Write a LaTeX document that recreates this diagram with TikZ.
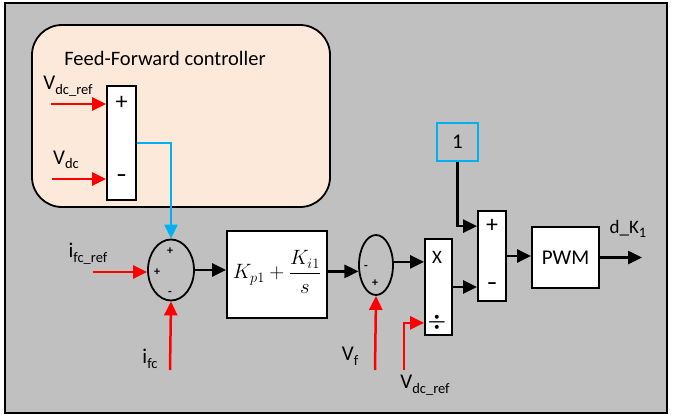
\documentclass[tikz,border=0pt]{standalone}
\usepackage{amsmath}
\usepackage{fontspec}
\setmainfont{Carlito}
\usetikzlibrary{arrows.meta,shapes.geometric,calc}
\definecolor{bggray}{HTML}{C0C0C0}
\definecolor{peach}{HTML}{FDE9D9}
\definecolor{skyblue}{HTML}{00B0F0}
\newcommand\lsub[1]{\raisebox{-0.45ex}{\fontsize{14.5}{14.5}\selectfont #1}}
\newcommand\fs[1]{\fontsize{#1}{#1}\selectfont}
\tikzset{
  blk/.style={draw=black, line width=1.8pt, fill=white, inner sep=0pt},
  sumell/.style={ellipse, draw=black, line width=1.8pt, inner sep=0pt},
  sig/.style={-{Triangle[length=14pt,width=13pt]}, line width=2.5pt},
  redsig/.style={sig, draw=red, -{Triangle[length=14pt,width=13pt,fill=red]}, color=red},
  bluesig/.style={sig, draw=skyblue, color=skyblue, line width=2.2pt},
  lbl/.style={inner sep=0pt, font=\fs{21}},
}
\begin{document}
\begin{tikzpicture}[x=1pt,y=-1pt]
\useasboundingbox (0,0) rectangle (676,415);
\fill[white] (0,0) rectangle (676,415);
\draw[line width=2pt, fill=bggray] (5,3) rectangle (667,413);
% feed-forward box
\node[draw=black, line width=1.8pt, fill=peach, rounded corners=30pt,
  minimum width=298pt, minimum height=182pt] (ff) at (181,116) {};
\node[lbl, font=\fs{20.5}] (fftxt) at (165,58) {Feed-Forward controller};
% blocks
\node[blk, minimum width=29pt, minimum height=114pt] (sub1) at (121.5,143) {};
\node[lbl, font=\fs{24}] (s1p) at (121.5,103) {+};
\node[lbl] (s1m) at (121.5,178) {\textbf{–}};
\node[sumell, minimum width=46pt, minimum height=61pt] (e1) at (171,270) {};
\node[inner sep=0pt, font=\fs{12}\bfseries] (e1t) at (170,251) {+};
\node[inner sep=0pt, font=\fs{12}\bfseries] (e1l) at (157,272) {+};
\node[inner sep=0pt, font=\fs{12}\bfseries] (e1b) at (170,293) {-};
\node[blk, minimum width=100pt, minimum height=87pt] (pi) at (277,274.5) {};
\node[inner sep=0pt, font=\fs{21}] (pitxt) at (277,272) {$K_{p1}+\dfrac{K_{i1}}{s}$};
\node[sumell, minimum width=34pt, minimum height=60pt] (e2) at (376,265) {};
\node[inner sep=0pt, font=\fs{12}\bfseries] (e2m) at (366,267) {-};
\node[inner sep=0pt, font=\fs{12}\bfseries] (e2p) at (375,283) {+};
\node[blk, minimum width=27pt, minimum height=96pt] (xb) at (438.5,287) {};
\node[lbl, font=\fs{19}] (xbx) at (437,257) {X};
\node[lbl] (xbd) at (437,322) {\fs{21}$\boldsymbol{\div}$};
\node[blk, minimum width=28pt, minimum height=90pt] (sub2) at (492,256) {};
\node[lbl, font=\fs{24}] (s2p) at (492,226) {+};
\node[lbl] (s2m) at (492,286) {\textbf{–}};
\node[draw=skyblue, line width=1.8pt, minimum width=41pt, minimum height=38pt, inner sep=0pt, font=\fs{21}] (one) at (457.5,142) {1};
\node[blk, minimum width=67pt, minimum height=61pt, font=\fs{21}] (pwm) at (565.5,257.5) {PWM};
% coordinates
\coordinate (vdcrefin) at (51,104);
\coordinate (vdcin) at (52,179);
\coordinate (ifcrefin) at (93,272);
\coordinate (ifcin) at (170,370);
\coordinate (vfin) at (375,370);
\coordinate (vdcref2in) at (404,370);
\coordinate (out) at (642,257.5);
% connectors
\draw[redsig] (vdcrefin) -- (sub1.west |- vdcrefin);
\draw[redsig] (vdcin) -- (sub1.west |- vdcin);
\draw[bluesig] (sub1.east) -| (e1.north);
\draw[redsig] (ifcrefin) -- (e1.west |- ifcrefin);
\draw[redsig] (ifcin) -- (e1.south);
\draw[sig] (e1.east) -- (pi.west |- e1.east);
\draw[sig] (pi.east |- e2.200) -- (e2.200);
\draw[redsig] (vfin) -- (e2.south);
\draw[sig] (e2.10) -- (xb.west |- e2.10);
\draw[redsig] (vdcref2in) |- ($(xb.south west)+(0,-13)$);
\draw[sig] (xb.east) -- (sub2.west |- xb.east);
\draw[sig] (one.south) |- ($(sub2.north west)+(0,16)$);
\draw[sig] (sub2.east) -- (pwm.west |- sub2.east);
\draw[sig] (pwm.east) -- (out);
% labels
\node[lbl] (l1) at (68,86) {V\lsub{dc\_ref}};
\node[lbl] (l2) at (66,160) {V\lsub{dc}};
\node[lbl] (l3) at (88,254) {i\lsub{fc\_ref}};
\node[lbl] (l4) at (150,359) {i\lsub{fc}};
\node[lbl] (l5) at (350,356) {V\lsub{f}};
\node[lbl] (l6) at (425,385) {V\lsub{dc\_ref}};
\node[lbl, font=\fs{19}] (l7) at (628,229) {d\_K\lsub{1}};
\end{tikzpicture}
\end{document}
